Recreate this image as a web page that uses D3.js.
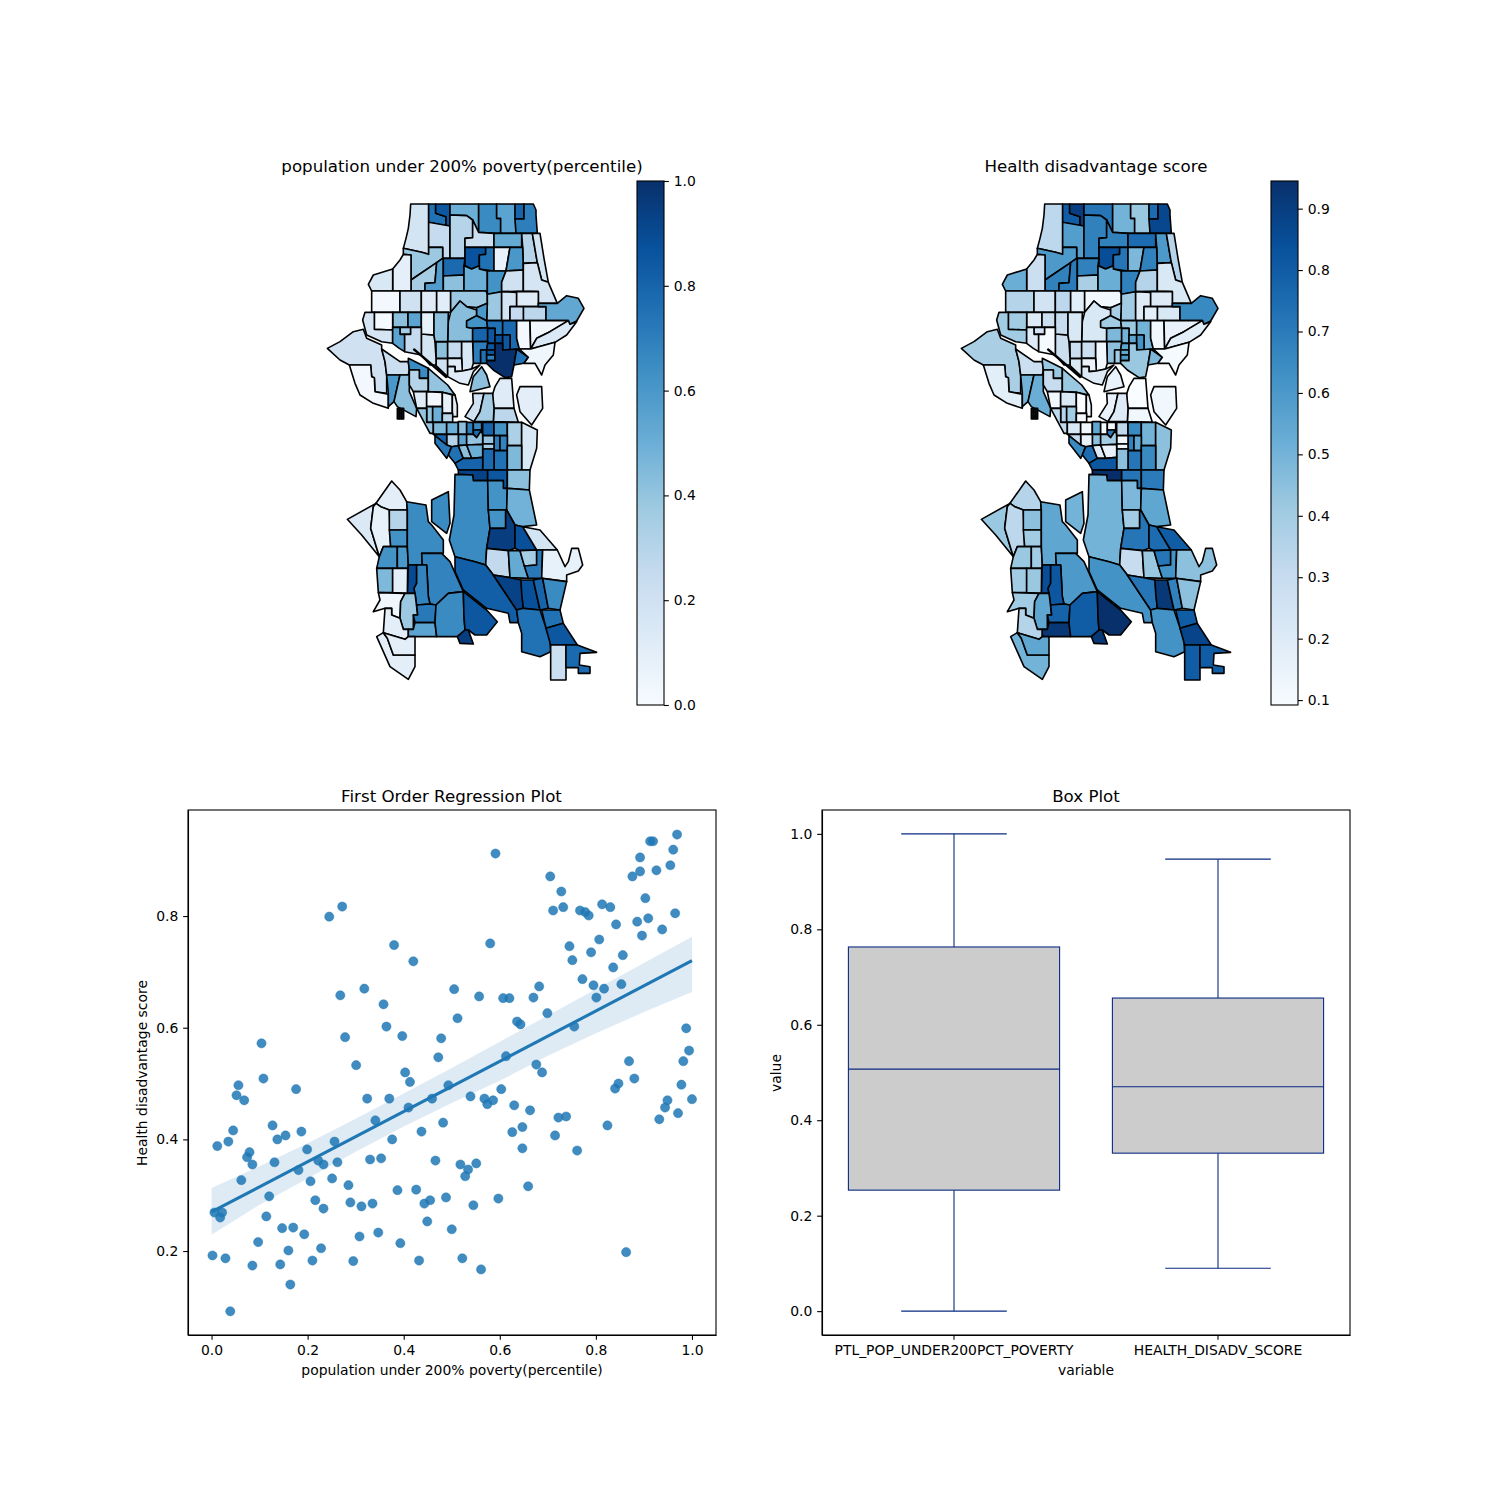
<!DOCTYPE html>
<html>
<head>
<meta charset="utf-8">
<script src="https://cdn.jsdelivr.net/npm/d3@7"></script>
<style>
  html, body { margin: 0; padding: 0; background: #fff; }
  text { font-family: "DejaVu Sans", sans-serif; fill: #000; }
</style>
</head>
<body>
<svg id="fig" width="1500" height="1500"></svg>
<script>
// census tract outlines, in map units
var tractShapes = [
  [[272,27],[326,27],[326,178],[305,172],[250,160],[258,130],[265,100],[270,60]],
  [[326,27],[347,27],[347,55],[378,65],[378,93],[326,82]],
  [[347,27],[390,27],[390,93],[378,93],[378,65],[347,55]],
  [[390,27],[476,27],[476,112],[458,75],[440,62],[390,60]],
  [[476,27],[530,27],[530,70],[542,70],[542,115],[522,115],[476,112]],
  [[530,27],[585,27],[588,115],[542,115],[542,70],[530,70]],
  [[585,27],[612,27],[612,72],[585,72]],
  [[612,27],[640,27],[648,45],[648,60],[652,115],[588,115],[585,72],[612,72]],
  [[326,82],[390,93],[390,190],[368,190],[368,157],[326,157]],
  [[390,60],[440,62],[458,75],[458,128],[435,130],[435,190],[390,190]],
  [[458,75],[476,112],[522,115],[522,157],[435,157],[435,130],[458,128]],
  [[522,115],[605,115],[605,157],[522,157]],
  [[605,115],[637,115],[652,203],[610,205],[608,157]],
  [[637,115],[660,115],[672,190],[685,262],[665,255],[652,203]],
  [[250,160],[305,172],[326,178],[326,157],[368,157],[368,190],[350,203],[273,255],[273,180],[250,178]],
  [[273,255],[350,203],[345,263],[315,265],[315,288],[273,288]],
  [[350,203],[368,190],[370,190],[370,288],[315,288],[315,265],[345,263]],
  [[250,178],[273,180],[273,288],[218,288],[218,222],[240,195]],
  [[218,222],[218,288],[155,288],[145,268],[160,240]],
  [[370,190],[435,190],[432,212],[432,240],[370,243]],
  [[435,157],[497,157],[497,178],[478,180],[478,212],[455,222],[435,212]],
  [[497,157],[522,157],[522,228],[478,222],[478,180],[497,178]],
  [[522,157],[570,157],[558,228],[522,228]],
  [[570,157],[608,157],[610,225],[558,228]],
  [[370,243],[432,240],[432,288],[370,288]],
  [[432,212],[455,222],[478,212],[478,222],[502,228],[502,298],[498,288],[432,288]],
  [[502,228],[558,228],[545,262],[545,290],[520,295],[502,298]],
  [[558,228],[610,225],[610,288],[545,290],[545,262]],
  [[610,205],[652,203],[665,255],[685,262],[712,325],[655,325],[655,290],[610,288]],
  [[155,288],[240,288],[240,352],[155,352]],
  [[240,288],[304,288],[304,352],[240,352]],
  [[304,288],[350,288],[350,352],[304,352]],
  [[350,288],[392,288],[392,352],[350,352]],
  [[392,288],[498,288],[502,298],[502,325],[470,338],[440,335],[420,318],[392,352]],
  [[502,298],[545,290],[545,377],[500,377],[502,325]],
  [[545,290],[590,292],[590,335],[570,335],[570,377],[545,377]],
  [[590,290],[655,290],[655,335],[590,335]],
  [[610,335],[678,335],[678,377],[610,377]],
  [[655,325],[712,325],[740,302],[775,310],[792,340],[770,378],[750,388],[745,377],[678,377],[678,335],[655,335]],
  [[570,335],[610,335],[610,377],[570,377]],
  [[392,352],[420,318],[440,335],[470,345],[470,362],[440,378],[440,397],[458,400],[458,440],[383,440],[385,380]],
  [[470,338],[502,325],[500,377],[470,362]],
  [[470,362],[500,377],[503,398],[458,400],[440,397],[440,378]],
  [[458,400],[503,398],[503,440],[458,440]],
  [[500,377],[548,377],[548,420],[525,420],[525,400],[503,400]],
  [[503,400],[525,400],[525,445],[503,445]],
  [[525,420],[548,420],[548,445],[525,445]],
  [[548,377],[590,377],[590,430],[598,462],[570,465],[570,420],[548,420]],
  [[548,420],[570,420],[570,465],[548,465]],
  [[458,440],[503,440],[503,445],[500,465],[482,465],[482,505],[460,505]],
  [[482,465],[500,465],[500,505],[482,505]],
  [[503,445],[525,445],[525,465],[500,465]],
  [[500,465],[525,465],[525,480],[500,480]],
  [[500,480],[525,480],[525,497],[500,497]],
  [[525,445],[548,445],[548,465],[590,462],[582,510],[575,545],[555,548],[520,525],[500,505],[500,497],[525,497]],
  [[590,462],[625,487],[612,505],[582,510]],
  [[590,377],[630,377],[632,462],[598,462],[590,430]],
  [[630,377],[745,377],[690,410],[650,430],[632,462]],
  [[650,430],[690,410],[745,377],[750,388],[770,380],[740,420],[705,442],[632,462]],
  [[632,462],[705,442],[700,480],[675,510],[665,540],[645,505],[612,505],[625,487],[598,462]],
  [[130,403],[140,430],[185,450],[185,462],[195,500],[200,540],[200,595],[165,590],[163,548],[155,545],[152,510],[88,510],[60,495],[22,460],[60,440],[100,410]],
  [[88,510],[152,510],[155,545],[163,548],[165,590],[205,598],[205,640],[160,625],[120,600],[105,565]],
  [[185,462],[240,500],[265,500],[268,525],[265,540],[200,540],[195,500]],
  [[200,540],[240,540],[222,620],[205,635],[205,595]],
  [[240,540],[268,540],[268,590],[290,640],[288,665],[232,635],[222,620]],
  [[232,640],[237,640],[237,672],[232,672]],
  [[239,640],[244,640],[244,672],[239,672]],
  [[246,640],[251,640],[251,672],[246,672]],
  [[265,490],[325,520],[325,550],[298,550],[298,525],[268,525],[265,500]],
  [[268,525],[298,525],[298,550],[325,550],[325,590],[280,590],[268,570]],
  [[325,520],[383,570],[405,600],[367,592],[325,590]],
  [[348,490],[383,490],[383,545],[348,512]],
  [[348,440],[383,440],[383,490],[348,490]],
  [[304,417],[342,420],[345,440],[348,490],[348,510],[330,510],[304,480]],
  [[218,352],[264,352],[264,397],[218,397]],
  [[264,352],[304,352],[304,397],[264,397]],
  [[163,352],[218,352],[218,405],[163,403]],
  [[135,352],[163,352],[163,403],[218,405],[218,445],[185,440],[140,420],[128,375]],
  [[304,352],[342,352],[342,420],[304,417]],
  [[342,352],[385,352],[383,440],[345,440],[342,420]],
  [[240,397],[272,397],[272,418],[240,418]],
  [[218,397],[240,397],[240,418],[254,418],[254,470],[238,460],[218,445]],
  [[254,418],[272,418],[272,397],[304,397],[304,480],[254,470]],
  [[383,440],[425,440],[425,490],[383,490]],
  [[425,440],[458,440],[460,505],[455,522],[427,528],[425,490]],
  [[383,490],[425,490],[427,528],[405,530],[405,515],[383,515]],
  [[383,515],[405,515],[405,530],[427,528],[455,522],[480,510],[460,530],[445,570],[420,565],[383,545]],
  [[485,515],[500,540],[510,575],[450,590],[460,545]],
  [[525,575],[540,550],[575,550],[582,640],[522,640],[517,600]],
  [[590,600],[600,575],[665,575],[668,640],[635,690],[600,650]],
  [[522,640],[582,640],[595,682],[520,680]],
  [[458,595],[492,595],[480,650],[462,680],[435,665],[460,625]],
  [[492,595],[518,595],[522,640],[520,680],[462,680],[480,650]],
  [[280,590],[320,590],[320,640],[290,640]],
  [[320,590],[367,592],[367,635],[320,635]],
  [[367,592],[397,600],[397,655],[367,655]],
  [[397,600],[405,600],[412,630],[412,665],[397,665]],
  [[320,635],[338,635],[338,682],[320,682]],
  [[338,635],[367,635],[367,682],[338,682]],
  [[367,655],[398,655],[398,682],[367,682]],
  [[290,640],[320,640],[320,682],[340,682],[340,715],[330,715]],
  [[340,682],[380,682],[380,718],[340,718]],
  [[380,682],[415,682],[415,718],[380,718]],
  [[415,680],[440,680],[440,718],[415,718]],
  [[440,682],[460,682],[460,718],[440,718]],
  [[460,682],[485,682],[485,705],[460,705]],
  [[460,705],[485,705],[470,728],[460,718]],
  [[488,682],[522,682],[522,722],[488,722]],
  [[522,682],[562,682],[562,722],[522,722]],
  [[562,682],[605,682],[605,752],[562,752]],
  [[605,682],[652,705],[650,760],[630,825],[605,825]],
  [[522,722],[540,722],[540,767],[522,767]],
  [[540,722],[562,722],[562,767],[540,767]],
  [[522,767],[562,767],[562,825],[522,825]],
  [[488,722],[522,722],[522,747],[488,747]],
  [[488,747],[522,747],[522,762],[488,762]],
  [[488,762],[522,762],[522,825],[488,825]],
  [[562,752],[605,752],[605,825],[562,825]],
  [[415,718],[440,718],[440,750],[415,752]],
  [[440,718],[460,718],[470,728],[485,705],[488,722],[488,748],[440,750]],
  [[380,718],[415,718],[415,752],[395,755],[380,750]],
  [[340,715],[340,718],[380,718],[380,750],[345,722]],
  [[345,722],[380,750],[395,755],[385,780],[380,790],[345,745]],
  [[395,755],[415,752],[430,790],[405,805],[385,780]],
  [[415,752],[440,750],[455,790],[430,790]],
  [[440,750],[488,748],[488,787],[455,790]],
  [[405,805],[430,790],[455,790],[488,787],[488,825],[430,825],[415,825]],
  [[415,825],[503,825],[503,857],[460,857],[458,840],[415,838]],
  [[503,825],[562,825],[562,880],[550,880],[550,857],[503,857]],
  [[562,825],[630,825],[628,885],[562,880]],
  [[405,838],[458,840],[460,857],[503,857],[505,945],[510,1000],[500,1060],[497,1110],[465,1100],[405,1085],[388,1035],[402,960]],
  [[503,857],[550,857],[550,880],[562,880],[560,945],[505,945]],
  [[562,880],[628,885],[650,990],[608,995],[585,990],[560,945]],
  [[505,945],[557,945],[557,1000],[510,1000]],
  [[557,945],[560,945],[585,990],[585,1060],[565,1067],[500,1060],[510,1000],[557,1000]],
  [[585,990],[608,995],[650,1065],[600,1067],[585,1060]],
  [[608,995],[660,1005],[712,1065],[650,1065]],
  [[500,1060],[565,1067],[570,1148],[520,1140],[497,1110]],
  [[565,1067],[600,1067],[625,1150],[570,1148]],
  [[600,1067],[650,1065],[650,1110],[613,1113]],
  [[650,1065],[668,1065],[665,1150],[625,1150],[613,1113],[650,1110]],
  [[668,1065],[712,1065],[735,1115],[745,1100],[755,1060],[775,1060],[788,1110],[775,1128],[740,1140],[740,1160],[665,1150]],
  [[405,1085],[465,1100],[497,1110],[520,1140],[590,1245],[595,1283],[570,1283],[565,1255],[500,1240],[430,1185],[405,1130]],
  [[520,1140],[570,1148],[603,1155],[610,1240],[590,1245]],
  [[603,1155],[640,1155],[660,1245],[610,1240],[605,1195]],
  [[640,1155],[668,1150],[685,1240],[660,1245]],
  [[668,1150],[740,1160],[720,1245],[685,1240]],
  [[665,1245],[720,1245],[730,1285],[678,1300]],
  [[590,1245],[610,1240],[660,1245],[690,1335],[692,1370],[660,1385],[605,1370],[605,1315],[595,1283]],
  [[678,1300],[730,1285],[772,1350],[692,1350]],
  [[692,1350],[738,1350],[738,1455],[692,1455]],
  [[738,1350],[772,1350],[830,1372],[780,1375],[778,1410],[810,1415],[810,1435],[775,1435],[775,1418],[738,1418]],
  [[168,925],[215,858],[240,885],[260,920],[262,945],[208,945],[182,935]],
  [[82,973],[168,925],[160,935],[152,1000],[178,1085],[125,1020]],
  [[160,935],[168,925],[182,935],[208,945],[212,1055],[190,1055],[178,1085],[152,1000]],
  [[208,945],[262,945],[262,1005],[208,1005]],
  [[208,1005],[262,1005],[262,1055],[212,1055]],
  [[190,1055],[232,1055],[232,1120],[170,1120],[178,1085]],
  [[232,1055],[262,1055],[265,1110],[263,1120],[232,1120]],
  [[260,920],[318,930],[325,980],[335,990],[370,1035],[370,1075],[305,1075],[307,1110],[265,1110],[262,1055],[262,945]],
  [[335,915],[385,890],[390,985],[380,1015],[335,980]],
  [[305,1075],[365,1075],[390,1100],[430,1190],[385,1195],[348,1230],[330,1227],[325,1205],[320,1110],[307,1110]],
  [[265,1110],[290,1110],[290,1165],[282,1180],[285,1195],[262,1195]],
  [[290,1110],[320,1110],[325,1205],[330,1227],[290,1230],[285,1195],[282,1180],[290,1165]],
  [[170,1120],[218,1120],[218,1193],[175,1193]],
  [[218,1120],[263,1120],[262,1195],[218,1193]],
  [[175,1193],[255,1195],[242,1220],[240,1270],[215,1260],[215,1240],[195,1240],[160,1250],[180,1215]],
  [[242,1220],[255,1195],[285,1195],[293,1260],[280,1260],[280,1303],[250,1303],[240,1270]],
  [[195,1240],[215,1240],[215,1260],[240,1270],[250,1303],[265,1303],[265,1325],[255,1333],[190,1313]],
  [[290,1230],[330,1227],[348,1230],[345,1283],[285,1283],[280,1260],[293,1260]],
  [[265,1303],[280,1303],[285,1283],[345,1283],[350,1325],[265,1325]],
  [[348,1230],[385,1195],[430,1190],[432,1265],[435,1305],[412,1325],[350,1325],[345,1283]],
  [[430,1190],[500,1245],[532,1280],[500,1320],[465,1320],[445,1305],[435,1305],[432,1265]],
  [[412,1325],[435,1305],[445,1305],[460,1347],[420,1345]],
  [[170,1325],[190,1313],[202,1330],[220,1380],[285,1380],[285,1415],[265,1453],[210,1415]],
  [[202,1330],[190,1313],[255,1333],[265,1325],[285,1325],[285,1380],[220,1380]],
  [[283,462],[380,545],[378,547],[281,464]]
];

// one value per tract, same order as tractShapes
var povertyPct = [
  .18,.75,.85,.5,.65,.55,.8,.7,.25,.3,
  .22,.52,.3,.18,.38,.35,.58,.09,.15,.78,
  .87,.75,.07,.6,.42,.5,.62,.2,.17,.02,
  .2,.12,.11,.38,.38,.18,.12,.28,.53,.25,
  .43,.6,.62,.8,.75,.85,.88,.78,.85,.7,
  .75,.85,.87,.7,1,.75,.02,.03,.14,.04,
  .2,.02,.22,.6,.42,.4,.4,.4,.65,.3,
  .4,.2,.42,.18,.42,.55,.01,.17,.08,.42,
  .35,.55,.25,.25,.15,.12,.12,.42,.12,.1,
  .28,.2,.35,.12,.03,.08,.1,.4,.5,.28,
  .4,.45,.5,.42,.7,.65,.78,.8,.62,.33,
  .15,.7,.68,.75,.4,.35,.78,.45,.55,.4,
  .3,.8,.72,.75,.42,.5,.8,.93,.85,.42,
  .65,.62,.48,.62,.95,.88,.18,.26,.52,.35,
  .72,.08,.82,.93,.88,.8,.65,.75,.75,.85,
  .22,.78,.1,.14,.08,.3,.62,.62,.6,.65,
  .65,.68,.9,.68,.45,.09,.04,.38,.1,.72,
  .55,.65,.85,.95,.1,.1,.4
];
var healthScore = [
  .33,.8,.9,.72,.5,.42,.75,.87,.58,.68,
  .68,.75,.6,.35,.6,.68,.7,.28,.52,.68,
  .85,.72,.48,.68,.38,.52,.68,.35,.22,.35,
  .25,.33,.18,.12,.4,.2,.2,.22,.65,.18,
  .22,.38,.4,.48,.42,.5,.55,.5,.62,.45,
  .4,.55,.55,.6,.42,.48,.12,.15,.18,.1,
  .38,.18,.28,.5,.52,.45,.45,.45,.42,.3,
  .42,.22,.28,.28,.2,.28,.4,.4,.3,.22,
  .25,.2,.1,.28,.12,.15,.2,.15,.08,.12,
  .12,.15,.2,.12,.22,.08,.12,.35,.4,.1,
  .32,.22,.12,.55,.1,.1,.7,.32,.65,.5,
  .45,.68,.55,.72,.12,.12,.45,.65,.45,.4,
  .15,.3,.65,.75,.2,.15,.82,.95,.72,.7,
  .5,.48,.55,.4,.72,.75,.8,.3,.42,.72,
  .62,.45,.62,.72,.92,.68,.45,.8,.62,.88,
  .8,.8,.35,.42,.33,.45,.4,.42,.4,.55,
  .5,.6,.85,.82,.4,.42,.4,.55,.35,.78,
  .92,.8,.945,.92,.5,.55,.42
];

// scatter: population under 200% poverty vs health disadvantage score
var scatterX = [
  .272,.245,.380,.420,.318,.268,.358,.364,.278,.397,.478,.104,.472,.301,.403,.108,.413,
  .591,.705,.728,.711,.732,.767,.778,.785,.813,.830,.842,.903,.876,.892,.892,.913,.919,
  .926,.955,.961,.969,.886,.909,.965,.938,.896,.807,.745,.790,.751,.856,.836,.772,.795,
  .853,.817,.801,.682,.670,.699,.636,.643,.580,.505,.557,.607,.620,.512,.755,.613,.676,
  .688,.988,.994,.982,.869,.880,.847,.056,.052,.068,.176,.324,.370,.493,.459,.410,.341,
  .482,.437,.376,.256,.127,.045,.035,.012,.137,.154,.187,.199,.079,.074,.085,.131,.222,
  .233,.262,.330,.353,.466,.181,.062,.206,.251,.285,.387,.426,.120,.216,.233,.289,.312,
  .335,.443,.455,.488,.006,.022,.018,.114,.449,.147,.170,.193,.500,.308,.347,.393,.097,
  .160,.228,.002,.029,.085,.143,.210,.295,.432,.164,.039,.603,.539,.568,.574,.586,.630,
  .663,.722,.738,.647,.626,.715,.647,.761,.824,.840,.978,.949,.944,1.000,.971,.932,.518,
  .534,.528,.551,.659,.597,.545,.522,.561,.863
];
var scatterY = [
  .817,.799,.748,.719,.670,.658,.642,.602,.583,.585,.581,.572,.547,.533,.520,.509,.503,
  .912,.871,.844,.810,.816,.810,.807,.801,.821,.816,.785,.832,.871,.880,.905,.934,.934,
  .882,.891,.919,.946,.790,.796,.805,.776,.765,.758,.746,.735,.721,.730,.708,.687,.676,
  .678,.670,.654,.674,.654,.626,.611,.606,.751,.669,.656,.653,.653,.617,.602,.549,.534,
  .520,.599,.559,.540,.540,.509,.500,.497,.479,.470,.490,.473,.473,.497,.473,.457,.434,
  .430,.414,.400,.396,.425,.416,.396,.388,.400,.407,.414,.382,.377,.368,.355,.359,.362,
  .355,.359,.364,.366,.362,.345,.327,.325,.330,.318,.309,.310,.298,.291,.276,.287,.280,
  .285,.285,.291,.296,.269,.269,.260,.262,.253,.241,.242,.230,.239,.226,.233,.214,.216,
  .201,.205,.192,.187,.174,.176,.183,.182,.183,.140,.092,.490,.477,.473,.463,.470,.461,
  .452,.439,.441,.422,.413,.407,.384,.380,.425,.491,.498,.470,.457,.472,.447,.436,.355,
  .346,.334,.357,.316,.294,.282,.187,.167,.198
];

// fitted line and its confidence band
var fitX = [0, 1];
var fitY = [.27, .72];
var bandX = [0, .1, .2, .3, .4, .5, .6, .7, .8, .9, 1];
var bandHigh = [.313, .352, .393, .437, .482, .528, .575, .622, .669, .716, .763];
var bandLow = [.229, .283, .33, .378, .423, .465, .505, .55, .59, .628, .664];

// box plot summaries
var boxNames = ['PTL_POP_UNDER200PCT_POVERTY', 'HEALTH_DISADV_SCORE'];
var boxLow = [0, .09];
var boxQ1 = [.2535, .331];
var boxMedian = [.507, .47];
var boxQ3 = [.763, .656];
var boxHigh = [1, .947];

var mapTitles = ['population under 200% poverty(percentile)', 'Health disadvantage score'];
var xTicks = [0, .2, .4, .6, .8, 1];
var scatterYTicks = [.2, .4, .6, .8];
var boxYTicks = [0, .2, .4, .6, .8, 1];
var barTicksLeft = [0, .2, .4, .6, .8, 1];
var barTicksRight = [.1, .2, .3, .4, .5, .6, .7, .8, .9];
var blues = ['#f7fbff', '#deebf7', '#c6dbef', '#9ecae1', '#6baed6', '#4292c6', '#2171b5', '#08519c', '#08306b'];

var svg = d3.select('#fig');
var fontSize = 13.9;
var bluesRamp = d3.piecewise(d3.interpolateRgb, blues);

function styleAxis(g) {
  g.selectAll('text').attr('font-size', fontSize).style('font-family', '"DejaVu Sans", sans-serif').attr('fill', '#000');
  g.selectAll('line').attr('stroke', '#000').attr('stroke-width', 1.1);
  g.selectAll('path').attr('stroke', '#000').attr('stroke-width', 1.1);
}

function addTitle(x, y, label, size) {
  svg.append('text').attr('x', x).attr('y', y).attr('text-anchor', 'middle').attr('font-size', size).text(label);
}

function addRotated(x, y, label) {
  svg.append('text').attr('transform', 'translate(' + x + ',' + y + ') rotate(-90)')
    .attr('text-anchor', 'middle').attr('font-size', fontSize).text(label);
}

function drawMap(values, dx, extent, barX, barTicks, fmt, id, title, titleX) {
  var x = d3.scaleLinear().domain([0, 840]).range([320 + dx, 600 + dx]);
  var y = d3.scaleLinear().domain([0, 750]).range([195, 445]);
  var color = d3.scaleSequential(bluesRamp).domain(extent);
  var outline = d3.line().x(function(d) { return x(d[0]); }).y(function(d) { return y(d[1]); }).curve(d3.curveLinearClosed);

  svg.append('g').selectAll('path').data(tractShapes).enter().append('path')
    .attr('d', outline)
    .attr('fill', function(d, i) { return color(values[i]); })
    .attr('stroke', '#000')
    .attr('stroke-width', 1.6)
    .attr('stroke-linejoin', 'round');

  addTitle(titleX, 172, title, 16.67);

  // colorbar
  var barY = d3.scaleLinear().domain(extent).range([705, 181]);
  var grad = svg.append('defs').append('linearGradient').attr('id', id)
    .attr('x1', 0).attr('x2', 0).attr('y1', 1).attr('y2', 0);
  grad.selectAll('stop').data(blues).enter().append('stop')
    .attr('offset', function(d, i) { return i / (blues.length - 1); })
    .attr('stop-color', function(d) { return d; });
  svg.append('rect').attr('x', barX).attr('y', 181).attr('width', 27).attr('height', 524)
    .attr('fill', 'url(#' + id + ')').attr('stroke', '#000').attr('stroke-width', 1.1);
  var axis = d3.axisRight(barY).tickValues(barTicks).tickFormat(fmt).tickSize(4.86).tickPadding(4.86).tickSizeOuter(0);
  svg.append('g').attr('transform', 'translate(' + (barX + 27) + ',0)').call(axis).call(styleAxis)
    .call(function(g) { g.select('.domain').remove(); });
}

drawMap(povertyPct, 0, [0, 1], 637, barTicksLeft, d3.format('.1f'), 'barA', mapTitles[0], 462);
drawMap(healthScore, 634, [.092, .945], 1271, barTicksRight, d3.format('.1f'), 'barB', mapTitles[1], 1096);

// regression panel
var sx = d3.scaleLinear().domain([-.049, 1.05]).range([188, 716]);
var sy = d3.scaleLinear().domain([.0496, .99]).range([1335, 810]);

var band = d3.area().x(function(d) { return sx(d); })
  .y0(function(d, i) { return sy(bandLow[i]); })
  .y1(function(d, i) { return sy(bandHigh[i]); });
svg.append('path').attr('d', band(bandX)).attr('fill', '#1f77b4').attr('fill-opacity', .15);

svg.append('g').selectAll('circle').data(scatterX).enter().append('circle')
  .attr('cx', function(d) { return sx(d); })
  .attr('cy', function(d, i) { return sy(scatterY[i]); })
  .attr('r', 4.6)
  .attr('fill', '#1f77b4')
  .attr('fill-opacity', .85)
  .attr('stroke', '#1f77b4')
  .attr('stroke-opacity', .45)
  .attr('stroke-width', 1);

svg.append('line').attr('x1', sx(fitX[0])).attr('x2', sx(fitX[1]))
  .attr('y1', sy(fitY[0])).attr('y2', sy(fitY[1]))
  .attr('stroke', '#1f77b4').attr('stroke-width', 3.1);

svg.append('rect').attr('x', 188).attr('y', 810).attr('width', 528).attr('height', 525)
  .attr('fill', 'none').attr('stroke', '#000').attr('stroke-width', 1.1);
svg.append('g').attr('transform', 'translate(0,1335)')
  .call(d3.axisBottom(sx).tickValues(xTicks).tickFormat(d3.format('.1f')).tickSize(4.86).tickPadding(4.86).tickSizeOuter(0))
  .call(styleAxis);
svg.append('g').attr('transform', 'translate(188,0)')
  .call(d3.axisLeft(sy).tickValues(scatterYTicks).tickFormat(d3.format('.1f')).tickSize(4.86).tickPadding(4.86).tickSizeOuter(0))
  .call(styleAxis);
addTitle(451.5, 802, 'First Order Regression Plot', 16.67);
addTitle(452, 1375, mapTitles[0], fontSize);
addRotated(147, 1073, 'Health disadvantage score');

// box plot panel
var bx = d3.scaleBand().domain(boxNames).range([822, 1350]).paddingInner(.2).paddingOuter(.1);
var by = d3.scaleLinear().domain([-.05, 1.05]).range([1335, 810]);
var boxEdge = '#0a2a80';

var boxes = svg.append('g').selectAll('g').data(boxNames).enter().append('g');
boxes.each(function(name, i) {
  var g = d3.select(this);
  var left = bx(name);
  var w = bx.bandwidth();
  var mid = left + w / 2;
  var cap = w / 4;
  g.append('line').attr('x1', mid).attr('x2', mid).attr('y1', by(boxLow[i])).attr('y2', by(boxQ1[i]));
  g.append('line').attr('x1', mid).attr('x2', mid).attr('y1', by(boxQ3[i])).attr('y2', by(boxHigh[i]));
  g.append('line').attr('x1', mid - cap).attr('x2', mid + cap).attr('y1', by(boxLow[i])).attr('y2', by(boxLow[i]));
  g.append('line').attr('x1', mid - cap).attr('x2', mid + cap).attr('y1', by(boxHigh[i])).attr('y2', by(boxHigh[i]));
  g.append('rect').attr('x', left).attr('width', w)
    .attr('y', by(boxQ3[i])).attr('height', by(boxQ1[i]) - by(boxQ3[i]))
    .attr('fill', '#cccccc');
  g.append('line').attr('x1', left).attr('x2', left + w).attr('y1', by(boxMedian[i])).attr('y2', by(boxMedian[i]));
  g.selectAll('line').attr('stroke', boxEdge).attr('stroke-width', 1.1);
  g.select('rect').attr('stroke', boxEdge).attr('stroke-width', 1.1);
});

svg.append('rect').attr('x', 822).attr('y', 810).attr('width', 528).attr('height', 525)
  .attr('fill', 'none').attr('stroke', '#000').attr('stroke-width', 1.1);
svg.append('g').attr('transform', 'translate(0,1335)')
  .call(d3.axisBottom(bx).tickSize(4.86).tickPadding(4.86).tickSizeOuter(0))
  .call(styleAxis);
svg.append('g').attr('transform', 'translate(822,0)')
  .call(d3.axisLeft(by).tickValues(boxYTicks).tickFormat(d3.format('.1f')).tickSize(4.86).tickPadding(4.86).tickSizeOuter(0))
  .call(styleAxis);
addTitle(1086, 802, 'Box Plot', 16.67);
addTitle(1086, 1375, 'variable', fontSize);
addRotated(781, 1073, 'value');
</script>
</body>
</html>
